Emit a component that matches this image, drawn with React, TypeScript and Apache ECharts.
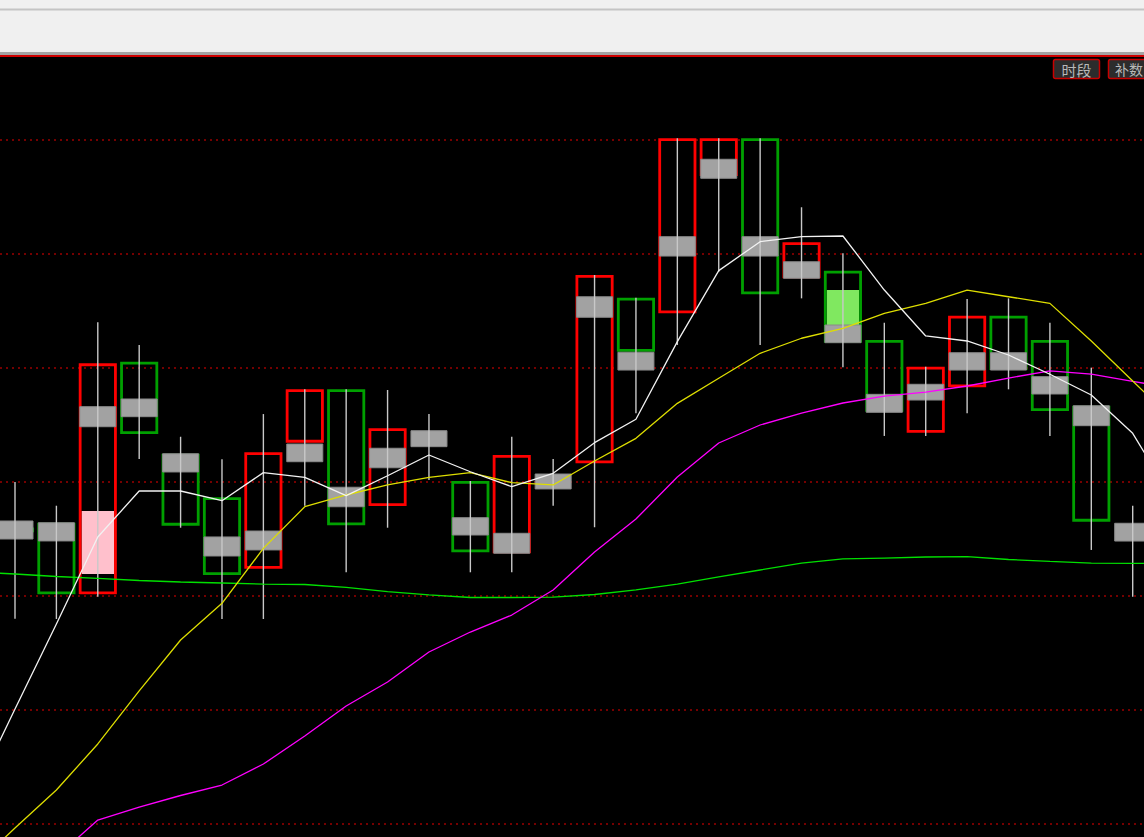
import React, { useEffect, useRef } from 'react';
import * as echarts from 'echarts';

// Trading sessions on the horizontal axis (first and last are only partly in view)
const sessions = [
  '02-09', '02-10', '02-11', '02-12', '02-13', '02-16', '02-17', '02-18', '02-19', '02-20',
  '02-23', '02-24', '02-25', '02-26', '02-27', '03-02', '03-03', '03-04', '03-05', '03-06',
  '03-09', '03-10', '03-11', '03-12', '03-13', '03-16', '03-17', '03-18', '03-19', '03-20',
];

// Main candles (hollow outlined bodies, light wicks)
const open = [null, 22.60, 22.643, 22.015, 24.055, 23.248, 22.866, 22.239, 23.345, 23.813, 22.789, 23.38, 23.009, 22.375, 23.00, 23.164, 24.617, 24.480, 25.684, 26.015, 24.787, 24.854, 24.246, 23.432, 23.831, 24.459, 24.246, 23.669, 22.56, null];
const close = [null, 22.56, 22.015, 24.041, 23.421, 22.617, 22.184, 23.261, 23.813, 22.620, 23.471, 23.38, 22.383, 23.237, 23.00, 24.816, 24.143, 26.015, 26.015, 24.646, 25.103, 24.222, 23.617, 24.011, 24.459, 23.982, 23.623, 22.652, 22.56, null];
const low = [null, 21.80, 21.798, 21.994, 23.202, 22.599, 21.798, 21.798, 22.792, 22.208, 22.599, 23.018, 22.208, 22.208, 22.792, 22.603, 23.603, 24.202, 24.845, 24.202, 24.611, 24.006, 23.404, 23.404, 23.603, 23.813, 23.404, 22.404, 21.994, null];
const high = [null, 23.00, 22.792, 24.401, 24.202, 23.397, 23.199, 23.596, 23.813, 23.813, 23.807, 23.596, 23.009, 23.397, 23.202, 24.816, 24.617, 26.015, 26.015, 26.015, 25.410, 25.006, 24.397, 24.011, 24.605, 24.611, 24.397, 24.003, 22.792, null];

// Grey band drawn over each candle
const bandHigh = [null, 22.658, 22.643, 23.661, 23.728, 23.248, 22.518, 22.570, 23.333, 22.954, 23.296, 23.450, 22.687, 22.550, 23.070, 24.625, 24.138, 25.152, 25.831, 25.152, 24.932, 24.377, 23.769, 23.857, 24.134, 24.134, 23.924, 23.669, 22.638, null];
const bandLow = [null, 22.500, 22.483, 23.485, 23.573, 23.088, 22.351, 22.404, 23.178, 22.783, 23.125, 23.310, 22.535, 22.375, 22.939, 24.445, 23.982, 24.982, 25.664, 24.982, 24.787, 24.222, 23.611, 23.719, 23.982, 23.982, 23.772, 23.494, 22.482, null];

// Solid inner body where one is shown
const fillHigh = [null, null, null, 22.746, null, null, null, null, null, null, null, null, null, null, null, null, null, null, null, null, null, 24.684, null, null, null, null, null, null, null, null];
const fillLow = [null, null, null, 22.193, null, null, null, null, null, null, null, null, null, null, null, null, null, null, null, null, null, 24.377, null, null, null, null, null, null, null, null];

// Moving averages
const ma5 = [20.254, 21.009, 21.754, 22.518, 22.921, 22.921, 22.836, 23.082, 23.041, 22.880, 23.055, 23.237, 23.090, 22.959, 23.076, 23.345, 23.550, 24.231, 24.854, 25.108, 25.152, 25.158, 24.684, 24.281, 24.237, 24.114, 23.945, 23.763, 23.427, 22.825];
const ma10 = [19.62, 19.965, 20.298, 20.702, 21.168, 21.614, 21.936, 22.418, 22.783, 22.886, 22.974, 23.041, 23.082, 22.994, 22.974, 23.184, 23.383, 23.690, 23.910, 24.129, 24.261, 24.348, 24.480, 24.567, 24.684, 24.625, 24.567, 24.237, 23.886, 23.535];
const ma20 = [19.158, 19.421, 19.711, 20.035, 20.149, 20.250, 20.342, 20.526, 20.772, 21.035, 21.246, 21.509, 21.684, 21.833, 22.053, 22.386, 22.675, 23.044, 23.342, 23.500, 23.605, 23.693, 23.754, 23.789, 23.842, 23.912, 23.974, 23.947, 23.882, 23.825];
const ma60 = [22.211, 22.193, 22.171, 22.154, 22.136, 22.123, 22.114, 22.105, 22.101, 22.075, 22.039, 22.009, 21.987, 21.987, 21.991, 22.013, 22.053, 22.105, 22.167, 22.228, 22.289, 22.325, 22.333, 22.342, 22.346, 22.320, 22.303, 22.289, 22.287, 22.287];

// Horizontal reference levels
const gridLevels = [20, 21, 22, 23, 24, 25, 26];

const RED = '#ff0000';
const GREEN = '#00a000';
const PINK = '#ffc0cc';
const LIME = '#80e860';

// Visible window: price range and session range of the plotting area
const Y_MAX = 26 + 83 / 114;
const Y_MIN = 20 - 13 / 114;
const STEP = (1132.7 - 15) / 27;
const X_MIN = 1 - 15 / STEP;
const X_MAX = X_MIN + 1144 / STEP;

const renderCandle = (_params: any, api: any) => {
  const idx = api.value(0);
  const o = api.value(1);
  const c = api.value(2);
  const lo = api.value(3);
  const hi = api.value(4);
  const gLo = api.value(5);
  const gHi = api.value(6);
  const band = api.size([1, 0])[0];
  const x = api.coord([idx, o])[0];
  const y = (v: number) => api.coord([idx, v])[1];
  const up = c >= o;
  const lw = 2.8;
  const boxW = band * 0.92;
  const bandW = band * 0.87;
  const yTop = y(Math.max(o, c));
  const yBot = y(Math.min(o, c));
  const children: any[] = [];

  const fH = fillHigh[idx];
  const fL = fillLow[idx];
  if (fH != null && fL != null) {
    const innerW = boxW - 2 * lw;
    children.push({
      type: 'rect',
      shape: { x: x - innerW / 2, y: y(fH), width: innerW, height: y(fL) - y(fH) },
      style: { fill: up ? PINK : LIME },
    });
  }
  children.push({
    type: 'rect',
    shape: { x: x - boxW / 2 + lw / 2, y: yTop + lw / 2, width: boxW - lw, height: Math.max(0, yBot - yTop - lw) },
    style: { fill: 'none', stroke: up ? RED : GREEN, lineWidth: lw },
  });
  children.push({
    type: 'rect',
    shape: { x: x - bandW / 2, y: y(gHi), width: bandW, height: y(gLo) - y(gHi) },
    style: { fill: '#a2a2a2', stroke: '#8a8a8a', lineWidth: 1 },
  });
  children.push({
    type: 'line',
    shape: { x1: x, y1: y(hi), x2: x, y2: y(lo) },
    style: { stroke: '#c8c8c8', lineWidth: 1.4 },
  });
  return { type: 'group', children };
};

const candleData = sessions
  .map((_, i) =>
    open[i] == null ? null : [i, open[i], close[i], low[i], high[i], bandLow[i], bandHigh[i]]
  )
  .filter((d) => d != null);

const maLine = (name: string, values: number[], color: string) => ({
  name,
  type: 'line',
  data: values.map((v, i) => [i, v]),
  symbol: 'none',
  showSymbol: false,
  silent: true,
  clip: true,
  z: 3,
  lineStyle: { color, width: 1.3 },
});

const option: any = {
  animation: false,
  backgroundColor: '#000000',
  grid: { left: 0, right: 0, top: 57, bottom: 0 },
  xAxis: { type: 'value', min: X_MIN, max: X_MAX, show: false },
  yAxis: { type: 'value', min: Y_MIN, max: Y_MAX, show: false },
  series: [
    {
      name: 'K',
      type: 'custom',
      renderItem: renderCandle,
      data: candleData,
      encode: { x: 0, y: [1, 2, 3, 4] },
      clip: true,
      z: 2,
      silent: true,
    },
    {
      ...maLine('MA60', ma60, '#00e000'),
      markLine: {
        silent: true,
        symbol: ['none', 'none'],
        z: 1,
        label: { show: false },
        lineStyle: { color: '#9a0000', type: [2, 4], width: 1.5 },
        data: gridLevels.map((v) => ({ yAxis: v })),
      },
    },
    maLine('MA20', ma20, '#ff00ff'),
    maLine('MA10', ma10, '#dede00'),
    maLine('MA5', ma5, '#f2f2f2'),
  ],
  graphic: [
    { type: 'rect', z: 100, shape: { x: 0, y: 0, width: 1144, height: 57 }, style: { fill: '#f0f0f0' } },
    { type: 'rect', z: 101, shape: { x: 0, y: 8.5, width: 1144, height: 2 }, style: { fill: '#c4c4c4' } },
    { type: 'rect', z: 101, shape: { x: 0, y: 52, width: 1144, height: 3 }, style: { fill: '#a4a4a4' } },
    { type: 'rect', z: 101, shape: { x: 0, y: 55, width: 1144, height: 2 }, style: { fill: '#d00000' } },
    {
      type: 'rect', z: 102,
      shape: { x: 1053.5, y: 59.5, width: 46, height: 19, r: 2 },
      style: { fill: '#2c2c2c', stroke: '#c80000', lineWidth: 1.5 },
    },
    {
      type: 'text', z: 103, x: 1076.5, y: 69,
      style: {
        text: '时段', fill: '#b8b8b8', fontSize: 15,
        fontFamily: 'Noto Sans CJK SC', align: 'center', verticalAlign: 'middle',
      },
    },
    {
      type: 'rect', z: 102,
      shape: { x: 1108.5, y: 59.5, width: 60, height: 19, r: 2 },
      style: { fill: '#2c2c2c', stroke: '#c80000', lineWidth: 1.5 },
    },
    {
      type: 'text', z: 103, x: 1115, y: 69,
      style: {
        text: '补数', fill: '#b8b8b8', fontSize: 14,
        fontFamily: 'Noto Sans CJK SC', align: 'left', verticalAlign: 'middle',
      },
    },
  ],
};

export default function App() {
  const ref = useRef<HTMLDivElement>(null);
  useEffect(() => {
    if (!ref.current) return;
    const chart = echarts.init(ref.current, null, { renderer: 'svg' });
    chart.setOption(option);
    return () => chart.dispose();
  }, []);
  return (
    <div
      ref={ref}
      style={{ position: 'fixed', left: 0, top: 0, width: 1144, height: 837, overflow: 'hidden' }}
    />
  );
}
